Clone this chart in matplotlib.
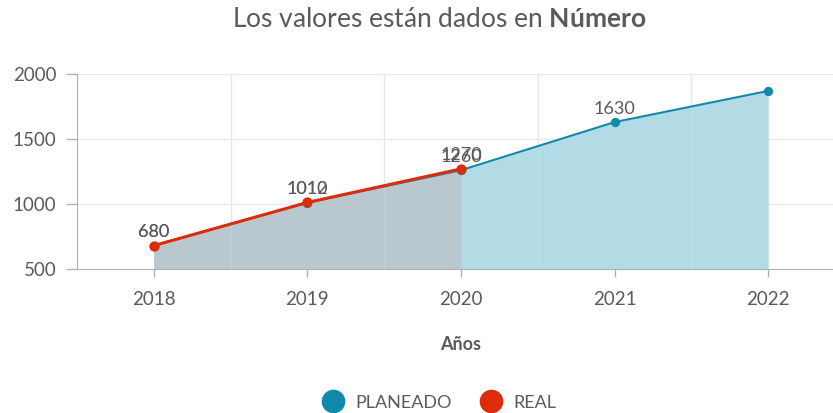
import matplotlib.pyplot as plt
from matplotlib.lines import Line2D

# Datos
years = ["2018", "2019", "2020", "2021", "2022"]
planeado = [680, 1010, 1260, 1630, 1870]
real = [680, 1012, 1270]
planeado_labels = ["680", "1010", "1260", "1630", ""]
real_labels = ["680", "1012", "1270"]

plt.rcParams['font.family'] = ['Lato', 'DejaVu Sans']
plt.rcParams['mathtext.fontset'] = 'custom'
plt.rcParams['mathtext.rm'] = 'Lato'
plt.rcParams['mathtext.bf'] = 'Lato:bold'

c_plan = "#1189ad"
c_plan_fill = "#b3dbe5"
c_real = "#dd2c0c"
c_real_fill = "#b9c8cf"
c_text = "#5a5a5a"

fig = plt.figure(figsize=(8.33, 4.13), dpi=100)
ax = fig.add_axes([77 / 833, 144 / 413, 768 / 833, 195 / 413])

x_plan = list(range(len(planeado)))
x_real = list(range(len(real)))

ax.fill_between(x_plan, planeado, 500, color=c_plan_fill, lw=0, zorder=1)
ax.fill_between(x_real, real, 500, color=c_real_fill, lw=0, zorder=2)
ax.plot(x_plan, planeado, color=c_plan, lw=1.5, zorder=3)
ax.plot(x_real, real, color=c_real, lw=2.2, zorder=4)
ax.scatter(x_plan, planeado, s=45, color=c_plan, zorder=5, lw=0)
ax.scatter(x_real, real, s=55, color=c_real, zorder=6, lw=0)

for x, y, t in zip(x_plan, planeado, planeado_labels):
    ax.annotate(t, (x, y), xytext=(0, 4), textcoords="offset points",
                ha="center", va="bottom", fontsize=13, color=c_text, zorder=7)
for x, y, t in zip(x_real, real, real_labels):
    ax.annotate(t, (x, y), xytext=(0, 4), textcoords="offset points",
                ha="center", va="bottom", fontsize=13, color=c_text, zorder=7)

ax.set_xlim(-0.5, 4.5)
ax.set_ylim(500, 2000)
ax.set_yticks([500, 1000, 1500, 2000])
ax.set_xticks(x_plan)
ax.set_xticklabels(years)

# rejilla: horizontal en los ticks, vertical entre categorias
for y in [1000, 1500, 2000]:
    ax.axhline(y, color="#e8e8e8", lw=1, zorder=0)
for x in [0.5, 1.5, 2.5, 3.5]:
    ax.axvline(x, color="#e4e4e4", lw=1, zorder=0)
    ax.axvline(x, color="#ffffff", lw=1, alpha=0.12, zorder=2.5)

for s in ["top", "right"]:
    ax.spines[s].set_visible(False)
ax.spines["left"].set_color("#b0b0b0")
ax.spines["bottom"].set_color("#b0b0b0")
ax.tick_params(axis="both", colors="#b0b0b0", labelcolor=c_text, labelsize=13.5,
               length=8, width=1)
ax.tick_params(axis="x", pad=10, length=6)
ax.tick_params(axis="y", pad=7)

ax.set_xlabel("Años", fontsize=13, fontweight="bold", color=c_text, labelpad=20)

fig.text(0.527, 0.952, "Los valores están dados en $\\bf{Número}$", ha="center",
         va="center", fontsize=19, color=c_text)

handles = [
    Line2D([0], [0], marker="o", ls="", markersize=16, color=c_plan, label="PLANEADO"),
    Line2D([0], [0], marker="o", ls="", markersize=16, color=c_real, label="REAL"),
]
leg = fig.legend(handles=handles, loc="center", bbox_to_anchor=(0.523, 0.025), ncol=2,
                 frameon=False, handletextpad=0.2, columnspacing=1.2,
                 prop={"size": 13})
for t in leg.get_texts():
    t.set_color(c_text)

fig.savefig("out.png", dpi=100)
